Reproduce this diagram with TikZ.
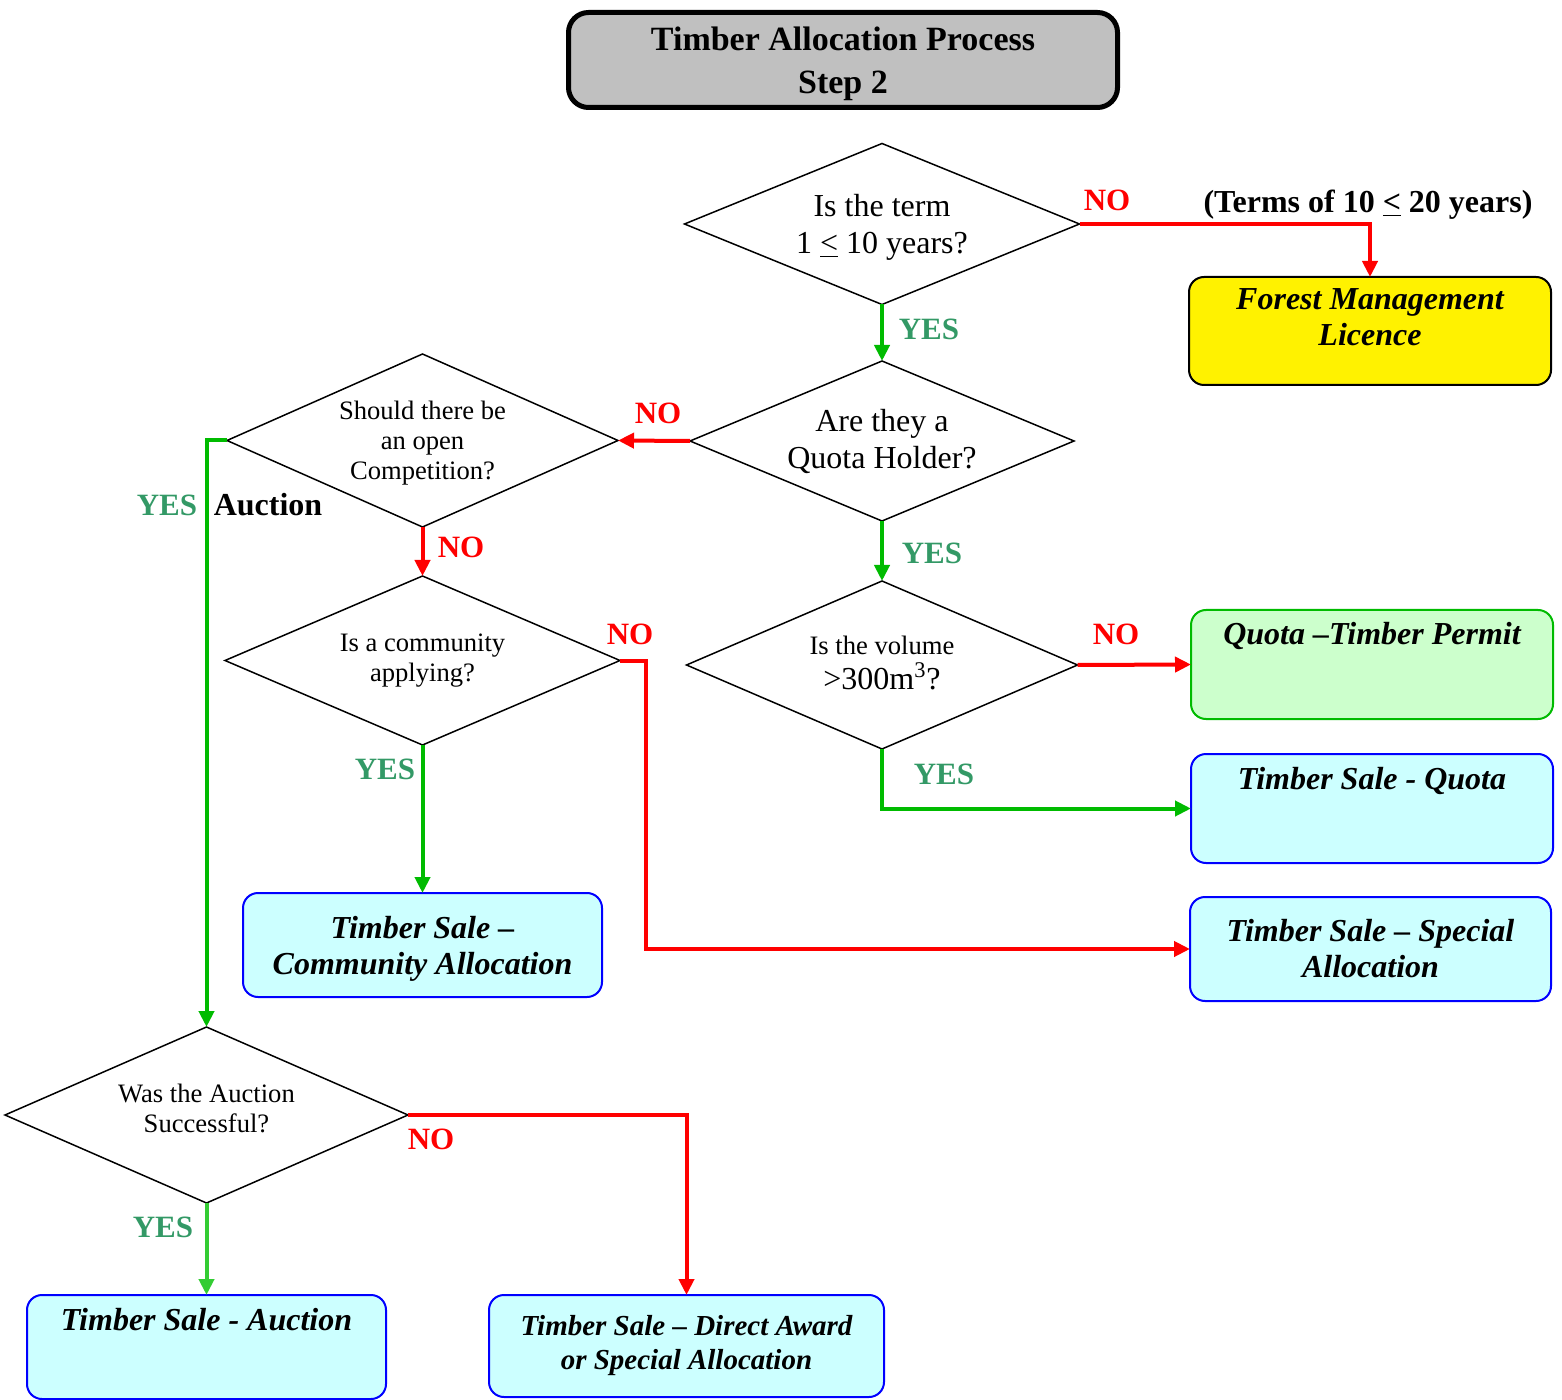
\documentclass[tikz,border=0pt]{standalone}
\usepackage{fontspec}
\setmainfont{Liberation Serif}
\usepackage{xcolor}
\usepackage{tikz}
\usetikzlibrary{arrows.meta,shapes.geometric}

\definecolor{nored}{RGB}{255,0,0}
\definecolor{yesgreen}{RGB}{0,187,0}
\definecolor{auctiongreen}{RGB}{51,204,51}
\definecolor{yestext}{RGB}{51,153,102}
\definecolor{salecyan}{RGB}{204,255,255}
\definecolor{permitgreen}{RGB}{204,255,204}
\definecolor{titlegray}{RGB}{192,192,192}

\begin{document}
\begin{tikzpicture}[x=0.5pt, y=-0.5pt,
  question/.style={diamond, draw, line width=0.75pt, aspect=2.4, inner sep=0pt, outer sep=0pt, align=center},
  bigq/.style={font=\fontsize{16}{18.5}\selectfont},
  smallq/.style={font=\fontsize{13.3}{15}\selectfont},
  outcome/.style={rectangle, rounded corners=7.5pt, draw=blue, line width=1pt, fill=salecyan,
    minimum width=180.5pt, minimum height=52pt, inner sep=4pt, outer sep=0pt, align=center,
    font=\fontsize{16}{18}\selectfont\bfseries\itshape},
  topline/.style={text height=13.5pt, text depth=#1, minimum height=0pt},
  noarrow/.style={draw=nored, line width=2pt, -{Triangle[length=8pt,width=7.5pt]}},
  yesarrow/.style={draw=yesgreen, line width=2pt, -{Triangle[length=8pt,width=7.5pt]}},
  nolabel/.style={text=nored, font=\fontsize{15.5}{18}\selectfont\bfseries},
  yeslabel/.style={text=yestext, font=\fontsize{15.5}{18}\selectfont\bfseries},
  remark/.style={font=\fontsize{16}{18}\selectfont\bfseries}]
\useasboundingbox (0,0) rectangle (1562,1400);
% title
\node[draw, line width=2.5pt, rounded corners=10pt, fill=titlegray, minimum width=274.5pt, minimum height=47.5pt,
  align=center, text depth=0pt, font=\fontsize{17}{21.5}\selectfont\bfseries] (title) at (843,60) {Timber Allocation Process\\Step 2};
% decisions
\node[question, bigq, minimum width=197.5pt, minimum height=80.5pt, text depth=0pt] (term) at (882,224) {Is the term\\1 \underline{<} 10 years?};
\node[question, bigq, minimum width=192pt, minimum height=80pt] (quota) at (882,441) {Are they a\\Quota Holder?};
\node[question, smallq, minimum width=195.5pt, minimum height=86.5pt, text depth=-4pt] (open) at (422.5,440.5) {Should there be\\an open\\Competition?};
\node[question, smallq, minimum width=197.5pt, minimum height=84.5pt] (community) at (422.5,660.5) {Is a community\\applying?};
\node[question, smallq, minimum width=195.5pt, minimum height=84pt, text depth=2pt] (volume) at (882,665) {Is the volume\\[2.5pt]{\fontsize{16}{18}\selectfont >300m\textsuperscript{3}?}};
\node[question, smallq, minimum width=201.5pt, minimum height=88pt, text depth=7pt] (success) at (206.5,1115) {Was the Auction\\Successful?};
% outcomes
\node[outcome, draw=black, fill=yellow, minimum width=181pt, minimum height=54pt, text depth=14pt] (fml) at (1370,331) {Forest Management\\Licence};
\node[outcome, draw=yesgreen, fill=permitgreen, minimum width=181pt, topline=33pt] (permit) at (1372,664.5) {Quota --Timber Permit};
\node[outcome, minimum width=181pt, topline=33pt] (tsq) at (1372,808.5) {Timber Sale - Quota};
\node[outcome, minimum width=180.5pt] (tss) at (1370.5,949) {Timber Sale -- Special\\Allocation};
\node[outcome, minimum width=179.5pt, text depth=0pt] (tsc) at (422.5,945) {Timber Sale --\\Community Allocation};
\node[outcome, minimum width=179.5pt, topline=30.5pt] (tsa) at (206.5,1347) {Timber Sale - Auction};
\node[outcome, minimum width=197.5pt, minimum height=51pt, font=\fontsize{14.5}{17}\selectfont\bfseries\itshape] (tsd) at (686.5,1346) {Timber Sale -- Direct Award\\or Special Allocation};
% connectors
\draw[noarrow] (term.east) -| (fml.north);
\draw[yesarrow] (term.south) -- (quota.north);
\draw[noarrow] (quota.west) -- (open.east);
\draw[yesarrow] (open.west) -| (success.north);
\draw[noarrow] (open.south) -- (community.north);
\draw[yesarrow] (community.south) -- (tsc.north);
\draw[noarrow] (community.east) -- ++(26,0) |- (tss.west);
\draw[yesarrow] (quota.south) -- (volume.north);
\draw[noarrow] (volume.east) -- (permit.west);
\draw[yesarrow] (volume.south) |- (tsq.west);
\draw[yesarrow, draw=auctiongreen] (success.south) -- (tsa.north);
\draw[noarrow] (success.east) -| (tsd.north);
% labels
\node[nolabel] (noterm) at (1107,200) {NO};
\node[remark] (terms) at (1368,205) {(Terms of 10 \underline{<} 20 years)};
\node[yeslabel] (yesterm) at (929,329) {YES};
\node[nolabel] (noquota) at (658,413) {NO};
\node[yeslabel] (yesopen) at (167,505) {YES};
\node[remark] (auction) at (268,505) {Auction};
\node[nolabel] (noopen) at (461,547) {NO};
\node[nolabel] (nocomm) at (630,634) {NO};
\node[yeslabel] (yescomm) at (385,769) {YES};
\node[yeslabel] (yesquota) at (932,553) {YES};
\node[nolabel] (novol) at (1116,634) {NO};
\node[yeslabel] (yesvol) at (944,774) {YES};
\node[nolabel] (nosucc) at (431,1139) {NO};
\node[yeslabel] (yessucc) at (163,1227) {YES};
\end{tikzpicture}
\end{document}
